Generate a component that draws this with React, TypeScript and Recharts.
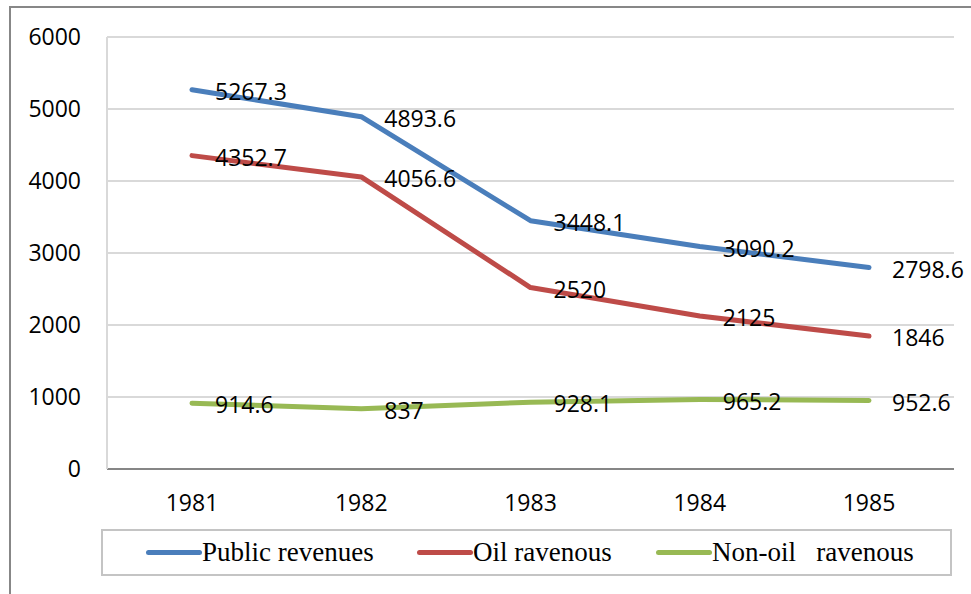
import React from 'react';
import { LineChart, Line, XAxis, YAxis, CartesianGrid, Legend, LabelList } from 'recharts';

const years = ['1981', '1982', '1983', '1984', '1985'];
const publicRevenues = [5267.3, 4893.6, 3448.1, 3090.2, 2798.6];
const oilRevenues = [4352.7, 4056.6, 2520, 2125, 1846];
const nonOilRevenues = [914.6, 837, 928.1, 965.2, 952.6];
const yTicks = [0, 1000, 2000, 3000, 4000, 5000, 6000];

const seriesNames = ['Public revenues', 'Oil ravenous', 'Non-oil   ravenous'];
const seriesColors = ['#4a7ebb', '#be4b48', '#98b954'];

const data = years.map((year, i) => ({
  year,
  publicRev: publicRevenues[i],
  oilRev: oilRevenues[i],
  nonOilRev: nonOilRevenues[i],
}));

const tickFont = { fontFamily: 'Open Sans', fontSize: 23, fill: '#000' };
const itemWidths = [271, 239, 'auto'];

// keep the series order of the original legend (recharts sorts by name otherwise)
const renderLegend = () => (
  <div
    style={{
      boxSizing: 'border-box',
      height: 47,
      border: '2px solid #c4c4c4',
      display: 'flex',
      alignItems: 'center',
      paddingLeft: 43,
      fontFamily: '"Liberation Serif", "Times New Roman", serif',
      fontSize: 27,
      color: '#000',
    }}
  >
    {seriesNames.map((name, i) => (
      <div key={`item-${i}`} style={{ display: 'flex', alignItems: 'center', width: itemWidths[i] }}>
        <span
          style={{
            display: 'inline-block',
            width: 56,
            height: 5,
            borderRadius: 3,
            background: seriesColors[i],
          }}
        />
        <span style={{ whiteSpace: 'pre', lineHeight: '27px' }}>{name}</span>
      </div>
    ))}
  </div>
);

const App: React.FC = () => {
  return (
    <div style={{ position: 'fixed', inset: 0, overflow: 'hidden', background: '#fff' }}>
      <div
        style={{
          position: 'absolute',
          left: 9,
          top: 6,
          width: 1200,
          height: 800,
          border: '2px solid #878787',
        }}
      />
      <div style={{ position: 'absolute', left: 0, top: 0 }}>
        <LineChart width={971} height={594} data={data} margin={{ top: 37, right: 17, left: 0, bottom: 65 }}>
          <CartesianGrid vertical={false} stroke="#d9d9d9" strokeWidth={2} />
          <XAxis
            dataKey="year"
            height={60}
            padding={{ left: 85, right: 85 }}
            axisLine={{ stroke: '#868686', strokeWidth: 2 }}
            tickLine={false}
            tickSize={0}
            tickMargin={26}
            tick={tickFont}
          />
          <YAxis
            width={107}
            domain={[0, 6000]}
            ticks={yTicks}
            axisLine={{ stroke: '#d9d9d9', strokeWidth: 2 }}
            tickLine={false}
            tickSize={0}
            tickMargin={26}
            tick={tickFont}
          />
          <YAxis
            yAxisId="right"
            orientation="right"
            width={0}
            domain={[0, 6000]}
            tick={false}
            tickLine={false}
            axisLine={{ stroke: '#d9d9d9', strokeWidth: 2 }}
          />
          <Legend
            layout="horizontal"
            verticalAlign="middle"
            align="center"
            content={renderLegend}
            wrapperStyle={{ left: 101, top: 529, width: 851, height: 47 }}
          />
          <Line
            type="linear"
            dataKey="publicRev"
            name={seriesNames[0]}
            stroke={seriesColors[0]}
            strokeWidth={5}
            strokeLinecap="round"
            strokeLinejoin="round"
            dot={false}
            activeDot={false}
            isAnimationActive={false}
          >
            <LabelList dataKey="publicRev" position="right" offset={23} dy={2} {...tickFont} />
          </Line>
          <Line
            type="linear"
            dataKey="oilRev"
            name={seriesNames[1]}
            stroke={seriesColors[1]}
            strokeWidth={5}
            strokeLinecap="round"
            strokeLinejoin="round"
            dot={false}
            activeDot={false}
            isAnimationActive={false}
          >
            <LabelList dataKey="oilRev" position="right" offset={23} dy={2} {...tickFont} />
          </Line>
          <Line
            type="linear"
            dataKey="nonOilRev"
            name={seriesNames[2]}
            stroke={seriesColors[2]}
            strokeWidth={5}
            strokeLinecap="round"
            strokeLinejoin="round"
            dot={false}
            activeDot={false}
            isAnimationActive={false}
          >
            <LabelList dataKey="nonOilRev" position="right" offset={23} dy={2} {...tickFont} />
          </Line>
        </LineChart>
      </div>
    </div>
  );
};

export default App;
